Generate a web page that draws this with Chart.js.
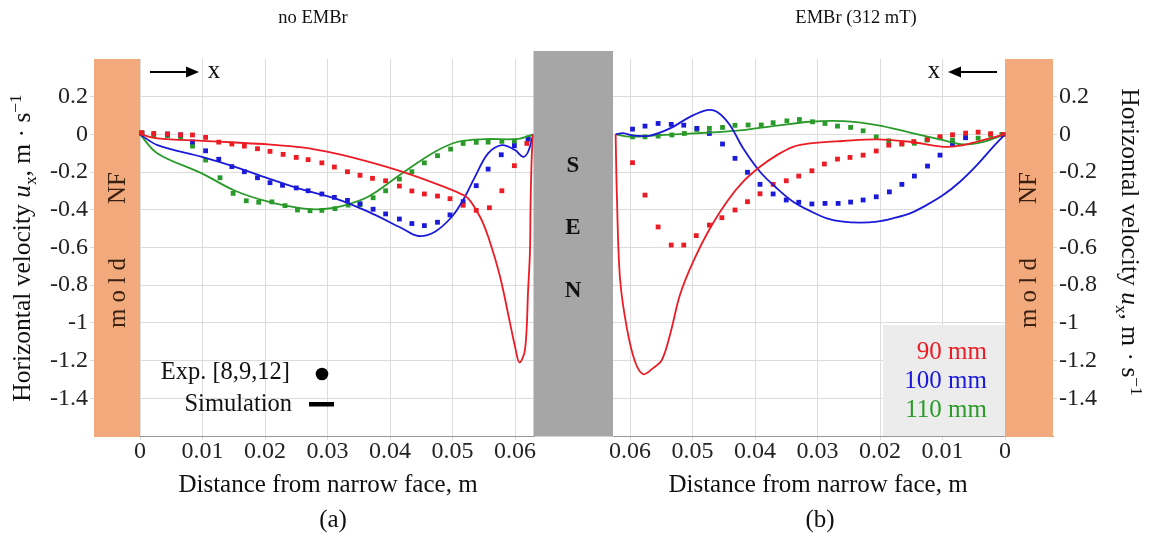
<!DOCTYPE html>
<html><head><meta charset="utf-8">
<script src="https://cdn.jsdelivr.net/npm/chart.js@4.4.1/dist/chart.umd.min.js"></script>
<style>
html,body{margin:0;padding:0;background:#fff;}
#wrap{position:relative;width:1150px;height:541px;overflow:hidden;background:#fff;}
canvas{position:absolute;top:0;}
#cl{left:0;}
#cr{left:575px;}
</style></head><body>
<div id="wrap">
<canvas id="cl" width="613" height="541" style="width:613px;height:541px"></canvas>
<canvas id="cr" width="575" height="541" style="width:575px;height:541px"></canvas>
</div>
<script>
// ---------- tick labels ----------
const xTicks = [0, 0.01, 0.02, 0.03, 0.04, 0.05, 0.06];
const yTicks = [-1.4, -1.2, -1, -0.8, -0.6, -0.4, -0.2, 0, 0.2];
const seriesNames = ['90 mm', '100 mm', '110 mm'];

// ---------- (a) no EMBr : experiment ----------
const leftExp90 = [[0.0003,0.009],[0.0022,0.005],[0.0044,0.002],[0.0065,-0.002],[0.0084,-0.003],[0.0105,-0.016],[0.0126,-0.041],[0.0147,-0.051],[0.0167,-0.062],[0.0188,-0.076],[0.0208,-0.090],[0.0229,-0.106],[0.0250,-0.122],[0.0269,-0.134],[0.0291,-0.151],[0.0311,-0.173],[0.0332,-0.198],[0.0352,-0.217],[0.0372,-0.233],[0.0393,-0.246],[0.0415,-0.274],[0.0435,-0.300],[0.0455,-0.316],[0.0476,-0.327],[0.0496,-0.341],[0.0517,-0.376],[0.0538,-0.403],[0.0559,-0.389],[0.0579,-0.299],[0.0599,-0.166],[0.0619,-0.048]];
const leftExp100 = [[0.0003,0.005],[0.0044,0.002],[0.0065,-0.002],[0.0084,-0.040],[0.0105,-0.087],[0.0126,-0.132],[0.0147,-0.171],[0.0167,-0.198],[0.0188,-0.230],[0.0208,-0.256],[0.0228,-0.270],[0.0250,-0.284],[0.0269,-0.299],[0.0291,-0.316],[0.0311,-0.334],[0.0332,-0.350],[0.0352,-0.368],[0.0373,-0.397],[0.0393,-0.422],[0.0415,-0.449],[0.0435,-0.473],[0.0455,-0.484],[0.0476,-0.466],[0.0496,-0.427],[0.0517,-0.357],[0.0538,-0.272],[0.0557,-0.184],[0.0578,-0.108],[0.0599,-0.060],[0.0621,-0.025]];
const leftExp110 = [[0.0003,0.009],[0.0022,-0.004],[0.0044,-0.007],[0.0065,-0.016],[0.0084,-0.062],[0.0105,-0.136],[0.0128,-0.230],[0.0149,-0.313],[0.0170,-0.352],[0.0190,-0.360],[0.0211,-0.358],[0.0232,-0.378],[0.0252,-0.401],[0.0272,-0.405],[0.0291,-0.403],[0.0312,-0.394],[0.0333,-0.375],[0.0352,-0.373],[0.0373,-0.336],[0.0393,-0.299],[0.0415,-0.237],[0.0435,-0.198],[0.0455,-0.151],[0.0476,-0.113],[0.0497,-0.078],[0.0517,-0.048],[0.0538,-0.042],[0.0557,-0.041],[0.0579,-0.037],[0.0599,-0.037],[0.0621,-0.019]];
// ---------- (a) no EMBr : simulation ----------
const leftSim90 = [[0,0],[0.0028,-0.021],[0.0099,-0.034],[0.0152,-0.043],[0.0205,-0.053],[0.0259,-0.069],[0.0312,-0.101],[0.0365,-0.145],[0.0419,-0.198],[0.0472,-0.260],[0.0509,-0.309],[0.0525,-0.339],[0.0544,-0.437],[0.0557,-0.542],[0.0576,-0.754],[0.0592,-1.0],[0.0600,-1.125],[0.0607,-1.21],[0.0616,-1.143],[0.0621,-0.825],[0.0624,-0.613],[0.0625,-0.35],[0.0627,-0.10],[0.0629,0.0]];
const leftSim100 = [[0,0],[0.0028,-0.057],[0.0099,-0.119],[0.0152,-0.172],[0.0205,-0.233],[0.0259,-0.292],[0.0312,-0.339],[0.0365,-0.410],[0.0419,-0.498],[0.0445,-0.539],[0.0472,-0.516],[0.0499,-0.437],[0.0517,-0.348],[0.0536,-0.225],[0.0557,-0.101],[0.0579,-0.057],[0.0600,-0.083],[0.0613,-0.119],[0.0621,-0.092],[0.0629,0.0]];
const leftSim110 = [[0,0],[0.0028,-0.101],[0.0099,-0.207],[0.0152,-0.299],[0.0205,-0.357],[0.0259,-0.392],[0.0291,-0.397],[0.0323,-0.380],[0.0365,-0.331],[0.0419,-0.207],[0.0472,-0.092],[0.0509,-0.039],[0.0552,-0.025],[0.0605,-0.024],[0.0629,0.0]];

// ---------- (b) EMBr 312 mT : experiment ----------
const rightExp90 = [[0.0596,-0.150],[0.0576,-0.322],[0.0555,-0.491],[0.0534,-0.587],[0.0514,-0.587],[0.0494,-0.537],[0.0473,-0.481],[0.0453,-0.442],[0.0432,-0.401],[0.0412,-0.357],[0.0392,-0.315],[0.0371,-0.265],[0.0350,-0.246],[0.0330,-0.221],[0.0309,-0.193],[0.0289,-0.157],[0.0268,-0.131],[0.0248,-0.122],[0.0227,-0.110],[0.0206,-0.088],[0.0186,-0.057],[0.0165,-0.050],[0.0146,-0.038],[0.0124,-0.026],[0.0104,-0.012],[0.0084,-0.002],[0.0063,0.007],[0.0043,0.012],[0.0023,0.004],[0.0003,0.0]];
const rightExp100 = [[0.0596,0.028],[0.0576,0.044],[0.0555,0.058],[0.0534,0.053],[0.0514,0.049],[0.0493,0.032],[0.0473,0.005],[0.0452,-0.051],[0.0432,-0.127],[0.0412,-0.201],[0.0392,-0.265],[0.0371,-0.316],[0.0350,-0.348],[0.0330,-0.360],[0.0309,-0.369],[0.0288,-0.366],[0.0267,-0.366],[0.0247,-0.359],[0.0227,-0.348],[0.0206,-0.331],[0.0185,-0.305],[0.0165,-0.265],[0.0145,-0.221],[0.0124,-0.168],[0.0104,-0.110],[0.0084,-0.052],[0.0063,-0.017]];
const rightExp110 = [[0.0596,-0.013],[0.0576,-0.013],[0.0555,-0.009],[0.0533,-0.003],[0.0513,0.005],[0.0493,0.026],[0.0473,0.032],[0.0452,0.037],[0.0432,0.048],[0.0411,0.050],[0.0390,0.050],[0.0371,0.062],[0.0349,0.072],[0.0329,0.079],[0.0308,0.067],[0.0288,0.058],[0.0268,0.044],[0.0247,0.037],[0.0227,0.019],[0.0206,-0.013],[0.0186,-0.034],[0.0165,-0.051],[0.0145,-0.047],[0.0125,-0.030],[0.0104,-0.018],[0.0084,-0.030],[0.0063,-0.018],[0.0043,-0.020],[0.0023,-0.004],[0.0005,0.0]];
// ---------- (b) EMBr 312 mT : simulation ----------
const rightSim90 = [[0.0623,0],[0.0621,-0.322],[0.0616,-0.763],[0.0605,-1.028],[0.0592,-1.205],[0.0579,-1.272],[0.0563,-1.240],[0.0549,-1.196],[0.0536,-1.063],[0.0520,-0.851],[0.0499,-0.675],[0.0472,-0.498],[0.0445,-0.357],[0.0419,-0.251],[0.0392,-0.172],[0.0365,-0.110],[0.0339,-0.066],[0.0312,-0.048],[0.0259,-0.035],[0.0205,-0.026],[0.0152,-0.039],[0.0099,-0.066],[0.0072,-0.060],[0.0045,-0.039],[0.0,0.0]];
const rightSim100 = [[0.0623,0],[0.0611,0.007],[0.0595,-0.006],[0.0568,-0.006],[0.0536,0.032],[0.0504,0.093],[0.0477,0.129],[0.0461,0.120],[0.0440,0.049],[0.0419,-0.074],[0.0392,-0.198],[0.0365,-0.286],[0.0339,-0.357],[0.0312,-0.406],[0.0285,-0.445],[0.0259,-0.463],[0.0232,-0.468],[0.0205,-0.463],[0.0179,-0.445],[0.0152,-0.419],[0.0125,-0.374],[0.0099,-0.322],[0.0072,-0.251],[0.0045,-0.163],[0.0019,-0.066],[0.0,0.0]];
const rightSim110 = [[0.0623,0],[0.0600,-0.012],[0.0552,-0.004],[0.0472,0.010],[0.0419,0.023],[0.0365,0.046],[0.0312,0.067],[0.0259,0.070],[0.0205,0.049],[0.0152,0.010],[0.0099,-0.030],[0.0067,-0.053],[0.0035,-0.039],[0.0,0.0]];

// ---------- styling ----------
const FONT = "'Liberation Serif','Times New Roman',serif";
const COLORS = ['#ec1c24', '#1a1ad8', '#2a9a2a'];
const MOLD = '#f2aa7c';
const GRID = '#dcdcdc';

const pts = a => a.map(p => ({x: p[0], y: p[1]}));
function expSet(data, c) {
  return {data: pts(data), showLine: false, pointStyle: 'rect', pointRadius: 3.4, pointHoverRadius: 3.4,
          backgroundColor: c, borderColor: c, borderWidth: 0};
}
function simSet(data, c) {
  return {data: pts(data), showLine: true, pointRadius: 0, borderColor: c, backgroundColor: c,
          borderWidth: 1.8, tension: 0.35, cubicInterpolationMode: 'default'};
}
const fmtX = v => (Math.abs(v) < 1e-9 ? '0' : v.toFixed(2));
const fmtY = v => (Math.abs(v) < 1e-9 ? '0' : String(Number(v.toFixed(1))));

function txt(ctx, s, x, y, o) {
  o = o || {};
  ctx.save();
  ctx.font = (o.italic ? 'italic ' : '') + (o.bold ? 'bold ' : '') + (o.size || 25) + 'px ' + FONT;
  ctx.fillStyle = o.color || '#111';
  ctx.textAlign = o.align || 'center';
  ctx.textBaseline = 'middle';
  ctx.fillText(s, x, y);
  ctx.restore();
}
function rich(ctx, parts, cx, cy, rot, size) {
  ctx.save();
  ctx.translate(cx, cy); ctx.rotate(rot);
  ctx.fillStyle = '#111';
  ctx.textAlign = 'left'; ctx.textBaseline = 'alphabetic';
  const fonts = parts.map(p => (p.italic ? 'italic ' : '') + ((p.sub || p.sup) ? size * 0.68 : size) + 'px ' + FONT);
  let w = 0;
  const ws = parts.map((p, i) => { ctx.font = fonts[i]; const m = ctx.measureText(p.t).width; w += m; return m; });
  let x = -w / 2;
  parts.forEach((p, i) => {
    ctx.font = fonts[i];
    const dy = p.sub ? size * 0.22 : (p.sup ? -size * 0.38 : 0);
    ctx.fillText(p.t, x, size * 0.33 + dy);
    x += ws[i];
  });
  ctx.restore();
}
const yTitleParts = [{t: 'Horizontal velocity '}, {t: 'u', italic: true}, {t: 'x', sub: true}, {t: ', m \u00b7 s'}, {t: '\u22121', sup: true}];

function vertText(ctx, s, cx, cy, size) {
  ctx.save();
  ctx.translate(cx, cy);
  ctx.rotate(-Math.PI / 2);
  ctx.font = size + 'px ' + FONT;
  ctx.fillStyle = '#3a2010';
  ctx.textAlign = 'center'; ctx.textBaseline = 'middle';
  ctx.fillText(s, 0, 0);
  ctx.restore();
}
function arrow(ctx, x1, x2, y) {
  ctx.save();
  ctx.strokeStyle = '#000'; ctx.fillStyle = '#000'; ctx.lineWidth = 2;
  const dir = Math.sign(x2 - x1);
  ctx.beginPath(); ctx.moveTo(x1, y); ctx.lineTo(x2 - dir * 10, y); ctx.stroke();
  ctx.beginPath(); ctx.moveTo(x2, y); ctx.lineTo(x2 - dir * 13, y - 5.5); ctx.lineTo(x2 - dir * 13, y + 5.5); ctx.closePath(); ctx.fill();
  ctx.restore();
}

function decoPlugin(side, ox) {
  return {
    id: 'deco' + side,
    beforeDatasetsDraw(chart) {
      const {ctx, chartArea: a} = chart;
      const x0 = chart.scales.x.getPixelForValue(0);
      ctx.save();
      ctx.fillStyle = MOLD;
      if (side === 'L') ctx.fillRect(a.left, a.top, x0 - a.left, a.bottom - a.top + 1);
      else ctx.fillRect(x0, a.top, a.right - x0, a.bottom - a.top + 1);
      if (side === 'R') {
        ctx.fillStyle = '#ececec';
        ctx.fillRect(883 - ox, 325, x0 - (883 - ox), a.bottom - 325);
      }
      ctx.restore();
    },
    afterDatasetsDraw(chart) {
      const {ctx, chartArea: a} = chart;
      if (side === 'L') {
        ctx.save();
        ctx.fillStyle = '#a6a6a6';
        ctx.fillRect(533.5, 51, 79.5, a.bottom - 51 + 0.5);
        ctx.restore();
        txt(ctx, 'S', 573, 166, {bold: true, size: 23});
        txt(ctx, 'E', 573, 228, {bold: true, size: 23});
        txt(ctx, 'N', 573, 291, {bold: true, size: 23});
      }
    },
    afterDraw(chart) {
      const {ctx} = chart;
      const X = v => v - ox;
      if (side === 'L') {
        txt(ctx, 'no EMBr', X(313), 18, {size: 18.5});
        txt(ctx, 'Distance from narrow face, m', X(328), 485, {size: 25});
        txt(ctx, '(a)', X(333), 520, {size: 25});
        rich(ctx, yTitleParts, X(22), 248, -Math.PI / 2, 25.5);
        vertText(ctx, 'NF', X(118), 188, 25);
        vertText(ctx, 'm o l d', X(118), 293, 25);
        arrow(ctx, X(150), X(199), 72);
        txt(ctx, 'x', X(214), 71, {size: 25});
        txt(ctx, 'Exp. [8,9,12]', X(290), 373, {align: 'right', size: 24.5});
        txt(ctx, 'Simulation', X(292), 405, {align: 'right', size: 24.5});
        ctx.save();
        ctx.fillStyle = '#000';
        ctx.beginPath(); ctx.arc(X(322), 374, 6.3, 0, Math.PI * 2); ctx.fill();
        ctx.fillRect(X(309), 402, 25, 4.5);
        ctx.restore();
      } else {
        txt(ctx, 'EMBr (312 mT)', X(856), 18, {size: 18.5});
        txt(ctx, 'Distance from narrow face, m', X(818), 485, {size: 25});
        txt(ctx, '(b)', X(820), 520, {size: 25});
        rich(ctx, yTitleParts, X(1130), 242, Math.PI / 2, 25.5);
        vertText(ctx, 'NF', X(1029), 188, 25);
        vertText(ctx, 'm o l d', X(1029), 293, 25);
        arrow(ctx, X(997), X(948), 72);
        txt(ctx, 'x', X(934), 71, {size: 25});
        seriesNames.forEach((n, i) => txt(ctx, n, X(987), 352 + i * 29, {align: 'right', size: 25, color: COLORS[i]}));
      }
    }
  };
}

function makeChart(id, side, datasets, ox, padL, padR, yW, xmin, xmax) {
  return new Chart(document.getElementById(id), {
    type: 'scatter',
    data: {datasets},
    options: {
      responsive: false, animation: false, events: [],
      layout: {padding: {left: padL, right: padR, top: 59, bottom: 0}},
      plugins: {legend: {display: false}, tooltip: {enabled: false}, title: {display: false}},
      scales: {
        x: {
          type: 'linear', min: xmin, max: xmax, reverse: side === 'R',
          afterBuildTicks: s => { s.ticks = xTicks.map(v => ({value: v})); },
          afterFit: s => { s.height = 105; },
          grid: {color: GRID, lineWidth: 1, tickLength: 4, drawTicks: true},
          border: {display: true, color: '#999999', width: 1},
          ticks: {font: {family: FONT, size: 24}, color: '#222', padding: -3, maxRotation: 0, minRotation: 0, autoSkip: false, callback: v => fmtX(v)}
        },
        y: {
          type: 'linear', position: side === 'L' ? 'left' : 'right', min: -1.6, max: 0.4,
          afterBuildTicks: s => { s.ticks = yTicks.map(v => ({value: v})); },
          afterFit: s => { s.width = yW; },
          grid: {color: GRID, lineWidth: 1, tickLength: 4, drawTicks: true},
          border: {display: false},
          ticks: {font: {family: FONT, size: 24}, color: '#222', padding: 2, autoSkip: false, callback: v => fmtY(v)}
        }
      }
    },
    plugins: [decoPlugin(side, ox)]
  });
}

makeChart('cl', 'L', [
  simSet(leftSim90, COLORS[0]), simSet(leftSim100, COLORS[1]), simSet(leftSim110, COLORS[2]),
  expSet(leftExp90, COLORS[0]), expSet(leftExp100, COLORS[1]), expSet(leftExp110, COLORS[2])
], 0, 0, 79, 94, -0.00736, 0.06304);

makeChart('cr', 'R', [
  simSet(rightSim90, COLORS[0]), simSet(rightSim100, COLORS[1]), simSet(rightSim110, COLORS[2]),
  expSet(rightExp90, COLORS[0]), expSet(rightExp100, COLORS[1]), expSet(rightExp110, COLORS[2])
], 575, 38, 0, 97, -0.00768, 0.06272);
</script>
</body></html>
